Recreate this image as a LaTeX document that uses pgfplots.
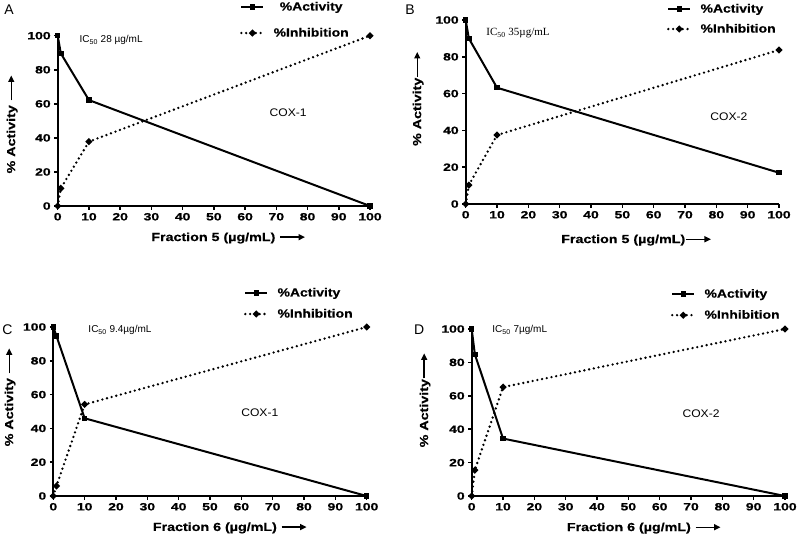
\documentclass[border=0pt]{standalone}
\usepackage{fontspec}
\setmainfont{Liberation Sans}
\newfontfamily\tickf{Liberation Sans}[UprightFont=* Bold, FakeStretch=1.33, FakeBold=0.8]
\newfontfamily\labf{Liberation Sans}[UprightFont=* Bold, FakeStretch=1.22, FakeBold=0.5]
\newfontfamily\legf{Liberation Sans}[UprightFont=* Bold, FakeStretch=1.18, FakeBold=0.5]
\newfontfamily\coxf{Liberation Sans}[FakeStretch=1.1]
\newfontfamily\serf{Liberation Serif}
\usepackage{pgfplots}
\pgfplotsset{compat=1.18}
\usetikzlibrary{arrows.meta}
\newcommand{\rarr}{\tikz[baseline=-0.33em]\draw[line width=1.4pt,-{Triangle[length=6.5pt,width=6pt]}] (0,0)--(25pt,0);}
\pgfplotsset{
 panel/.style={
  scale only axis, axis x line*=bottom, axis y line*=left,
  xmin=0,xmax=100,ymin=0,ymax=100,
  xtick={0,10,...,100}, ytick={0,20,...,100},
  tick align=outside, major tick length=3.5pt,
  every tick/.style={line width=1.5pt, black},
  axis line style={line width=2pt},
  ticklabel style={font=\tickf\fontsize{10.5}{11}\selectfont},
  /pgf/number format/assume math mode=true,
  clip=false,
  xlabel style={font=\labf\fontsize{11.7}{12}\selectfont, anchor=center},
  ylabel style={font=\labf\fontsize{11.7}{12}\selectfont, anchor=center},
  legend style={draw=none, fill=none, inner sep=0pt, outer sep=0pt,
     font=\legf\fontsize{11.8}{12}\selectfont, anchor=north west,
     /tikz/every odd column/.append style={column sep=7pt}},
  legend cell align=left,
 },
 act/.style={black, line width=2pt, mark=square*, mark size=1.7pt,
   legend image code/.code={\draw[mark repeat=2,mark phase=2,##1] plot coordinates {(0pt,0pt)(11pt,0pt)(22pt,0pt)};}},
 inh/.style={black, line width=2.6pt, dash pattern=on 0pt off 4.8pt, line cap=round, mark=*, mark size=1.8pt, mark options={solid},
   legend image code/.code={\draw[mark repeat=2,mark phase=2,##1] plot coordinates {(0pt,0pt)(11pt,0pt)(22pt,0pt)};}},
}
\begin{document}
\begin{tikzpicture}
\path[use as bounding box] (0,0) rectangle (797pt,-536pt);
% ---------- A ----------
\begin{axis}[panel, at={(57.7pt,-206pt)}, anchor=south west, width=312.3pt, height=170.3pt,
  xlabel={Fraction 5 (µg/mL) \rarr}, xlabel style={at={(axis description cs:0.547,-0.188)}},
  ylabel={\% Activity \rarr}, ylabel style={at={(axis description cs:-0.146,0.481)}},
  legend style={at={(axis description cs:0.584,1.210)}, row sep=12pt}, legend cell align=center]
\addplot[act] coordinates {(0,100) (1,89.6) (10,62.2) (100,0)};
\addplot[inh] coordinates {(0,0) (1,10.4) (10,37.8) (100,100)};
\legend{\%Activity,\%Inhibition}
\node[anchor=west, font=\fontsize{10}{12}\selectfont] at (axis description cs:0.059,0.975) {IC\textsubscript{50} 28 µg/mL};
\node[font=\coxf\fontsize{11}{12}\selectfont] at (axis description cs:0.738,0.546) {COX-1};
\node[font=\fontsize{14}{16}\selectfont] at (axis description cs:-0.156,1.151) {A};
\end{axis}
% ---------- B ----------
\begin{axis}[panel, at={(465.7pt,-204pt)}, anchor=south west, width=313.3pt, height=184pt,
  xlabel={Fraction 5 (µg/mL)\rarr}, xlabel style={at={(axis description cs:0.545,-0.196)}},
  ylabel={\% Activity\rarr}, ylabel style={at={(axis description cs:-0.152,0.573)}},
  legend style={at={(axis description cs:0.6425,1.098)}, row sep=6pt}]
\addplot[act] coordinates {(0,100) (1,90.0) (10,63.2) (100,17.0)};
\addplot[inh] coordinates {(0,0) (1,10.3) (10,37.5) (100,83.7)};
\legend{\%Activity,\%Inhibition}
\node[anchor=west, font=\serf\fontsize{11}{12}\selectfont] at (axis description cs:0.055,0.929) {IC\textsubscript{50} 35µg/mL};
\node[font=\coxf\fontsize{11}{12}\selectfont] at (axis description cs:0.840,0.473) {COX-2};
\node[font=\fontsize{14}{16}\selectfont] at (axis description cs:-0.178,1.054) {B};
\end{axis}
% ---------- C ----------
\begin{axis}[panel, at={(53.3pt,-496pt)}, anchor=south west, width=313.4pt, height=169pt,
  xlabel={Fraction 6 (µg/mL) \rarr}, xlabel style={at={(axis description cs:0.564,-0.189)}},
  ylabel={\% Activity \rarr}, ylabel style={at={(axis description cs:-0.138,0.586)}},
  legend style={at={(axis description cs:0.6085,1.243)}, row sep=7pt}]
\addplot[act] coordinates {(0,100) (1,94.7) (10,46.0) (100,0)};
\addplot[inh] coordinates {(0,0) (1,5.9) (10,54.2) (100,100)};
\legend{\%Activity,\%Inhibition}
\node[anchor=west, font=\fontsize{10}{12}\selectfont] at (axis description cs:0.101,0.982) {IC\textsubscript{50} 9.4µg/mL};
\node[font=\coxf\fontsize{11}{12}\selectfont] at (axis description cs:0.659,0.491) {COX-1};
\node[font=\fontsize{14}{16}\selectfont] at (axis description cs:-0.146,0.984) {C};
\end{axis}
% ---------- D ----------
\begin{axis}[panel, at={(471.7pt,-496pt)}, anchor=south west, width=313.3pt, height=167pt,
  xlabel={Fraction 6 (µg/mL) \rarr}, xlabel style={at={(axis description cs:0.550,-0.192)}},
  ylabel={\% Activity\rarr}, ylabel style={at={(axis description cs:-0.149,0.575)}},
  legend style={at={(axis description cs:0.636,1.251)}, row sep=7pt}]
\addplot[act] coordinates {(0,100) (1,84.9) (10,34.4) (100,0)};
\addplot[inh] coordinates {(0,0) (1,15.5) (10,65.2) (100,100)};
\legend{\%Activity,\%Inhibition}
\node[anchor=west, font=\fontsize{10}{12}\selectfont] at (axis description cs:0.055,0.994) {IC\textsubscript{50} 7µg/mL};
\node[font=\coxf\fontsize{11}{12}\selectfont] at (axis description cs:0.732,0.491) {COX-2};
\node[font=\fontsize{14}{16}\selectfont] at (axis description cs:-0.168,0.994) {D};
\end{axis}
\end{tikzpicture}
\end{document}
